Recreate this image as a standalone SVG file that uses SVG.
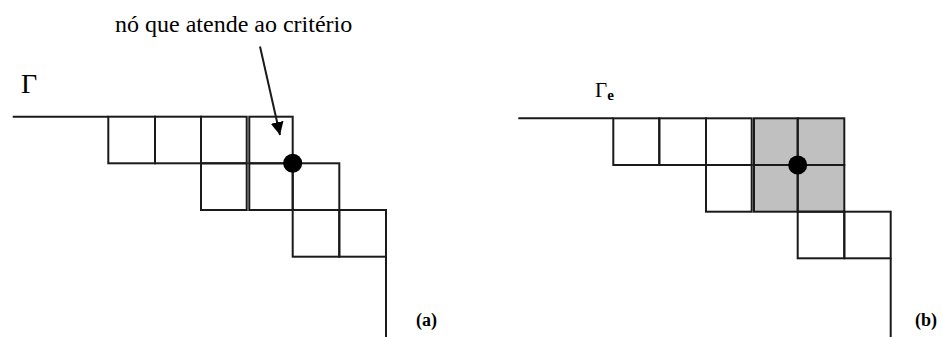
<svg xmlns="http://www.w3.org/2000/svg" width="943" height="337" viewBox="0 0 943 337">
<style>
.g{fill:none;stroke:#1a1a1a;stroke-width:2}
.sh{fill:#c0c0c0;stroke:none}
.dot{fill:#000}
.t{font-family:"Liberation Serif","Times New Roman",serif;fill:#000}
.lbl{font-family:"Liberation Serif","Times New Roman",serif;font-weight:bold;font-size:18px;fill:#000}
</style>
<defs>
<marker id="ah" markerWidth="14" markerHeight="14" refX="13" refY="6.5" orient="auto" markerUnits="userSpaceOnUse">
<path d="M0,0 L13,6.5 L0,13 Z" fill="#000"/>
</marker>
</defs>
<rect width="943" height="337" fill="#fff"/>

<g id="panel-a">
<text class="t" x="115" y="31.5" font-size="24">nó que atende ao critério</text>
<text class="t" x="21" y="93.3" font-size="28">Γ</text>
<g id="grid-a">
<line class="g" x1="12.7" y1="116.7" x2="108.3" y2="116.7"/>
<rect class="g" x="108.3" y="116.7" width="46.7" height="46.6"/>
<rect class="g" x="155" y="116.7" width="46" height="46.6"/>
<rect class="g" x="201" y="116.7" width="45.7" height="46.6"/>
<rect class="g" x="249.3" y="116.7" width="43.4" height="46.6"/>
<rect class="g" x="201" y="163.3" width="45.7" height="46.7"/>
<rect class="g" x="249.3" y="163.3" width="43.4" height="46.7"/>
<rect class="g" x="292.7" y="163.3" width="46.6" height="46.7"/>
<rect class="g" x="292.7" y="210" width="46.6" height="46.7"/>
<rect class="g" x="339.3" y="210" width="46.7" height="46.7"/>
<line class="g" x1="386" y1="256.7" x2="386" y2="337" stroke="#555"/>
</g>
<circle id="node-a" class="dot" cx="292.7" cy="163.3" r="9.5"/>
<text class="lbl" x="416" y="326">(a)</text>
</g>

<g id="connectors">
<line x1="260" y1="46.5" x2="280" y2="135" stroke="#1a1a1a" stroke-width="2" marker-end="url(#ah)"/>
</g>

<g id="panel-b">
<text class="t" x="595" y="97.3" font-size="21">Γ<tspan font-size="15" font-weight="bold" dy="3">e</tspan></text>
<rect class="sh" x="754" y="118.3" width="90.3" height="93.4"/>
<g id="grid-b">
<line class="g" x1="518.3" y1="118.3" x2="613.3" y2="118.3"/>
<rect class="g" x="613.3" y="118.3" width="46" height="46.7"/>
<rect class="g" x="659.3" y="118.3" width="46.7" height="46.7"/>
<rect class="g" x="706" y="118.3" width="45.7" height="46.7"/>
<rect class="g" x="706" y="165" width="45.7" height="46.7"/>
<rect class="g" x="754" y="118.3" width="43.7" height="46.7"/>
<rect class="g" x="797.7" y="118.3" width="46.6" height="46.7"/>
<rect class="g" x="754" y="165" width="43.7" height="46.7"/>
<rect class="g" x="797.7" y="165" width="46.6" height="46.7"/>
<rect class="g" x="797.7" y="211.7" width="46.6" height="46.6"/>
<rect class="g" x="844.3" y="211.7" width="46.4" height="46.6"/>
<line class="g" x1="890.7" y1="258.3" x2="890.7" y2="337"/>
</g>
<circle id="node-b" class="dot" cx="797.7" cy="165" r="9.5"/>
<text class="lbl" x="915" y="326">(b)</text>
</g>
</svg>
